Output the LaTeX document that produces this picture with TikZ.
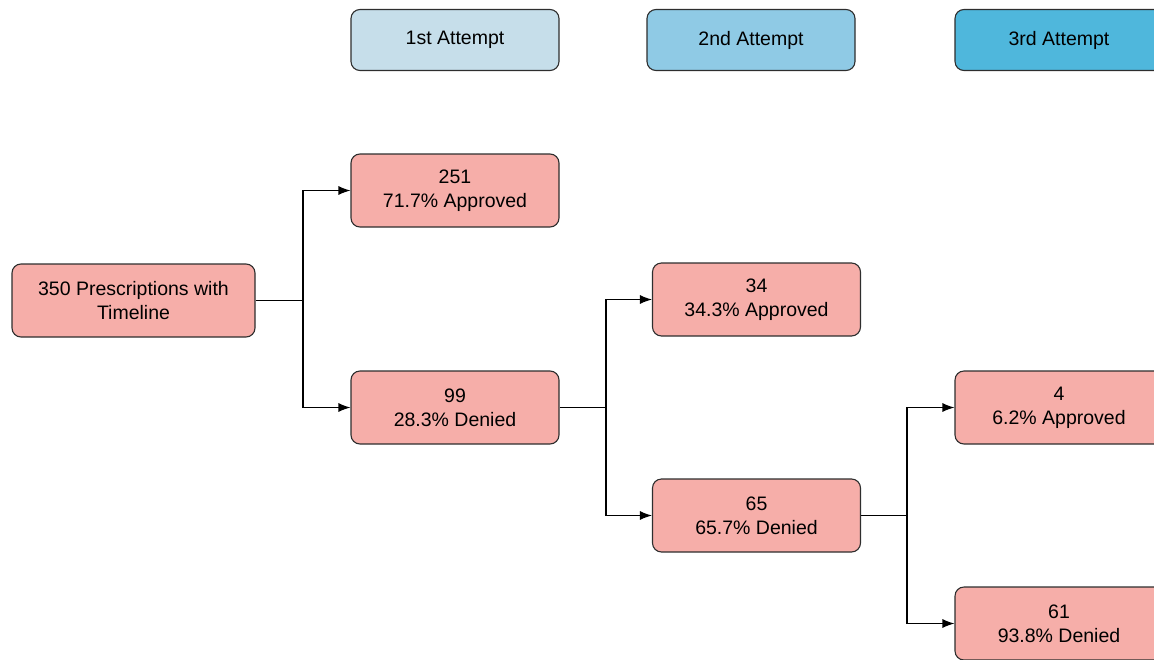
\documentclass[tikz,border=0pt]{standalone}
\usepackage{fontspec}
\setmainfont{Liberation Sans}
\usetikzlibrary{arrows.meta}
\definecolor{hdrA}{HTML}{C6DEEA}
\definecolor{hdrB}{HTML}{8FCAE5}
\definecolor{hdrC}{HTML}{4FB7DC}
\definecolor{pinkbox}{HTML}{F6AEA9}
\definecolor{edge}{HTML}{2E2E2E}
\tikzset{
  box/.style={draw=edge, line width=1.1pt, rounded corners=9pt, minimum width=208pt, minimum height=73pt, align=center, font=\fontsize{19.5}{24}\selectfont, inner sep=2pt},
  hdr/.style={box, minimum height=61pt},
  pbox/.style={box, fill=pinkbox},
  conn/.style={draw=black, line width=1.1pt, -{Latex[length=12pt,width=9pt]}},
}
\begin{document}
\begin{tikzpicture}[x=1pt,y=-1pt]
\useasboundingbox (0,0) rectangle (1154,659);
\clip (0,0) rectangle (1154,659);
\node[hdr, fill=hdrA] (h1) at (455,40) {1st Attempt};
\node[hdr, fill=hdrB] (h2) at (751,40) {2nd Attempt};
\node[hdr, fill=hdrC] (h3) at (1059,40) {3rd Attempt};
\node[pbox, minimum width=243pt] (root) at (133.5,300.5) {350 Prescriptions with\\Timeline};
\node[pbox] (a1) at (455,190.5) {251\\71.7\% Approved};
\node[pbox] (d1) at (455,407.5) {99\\28.3\% Denied};
\node[pbox] (a2) at (756.5,299.5) {34\\34.3\% Approved};
\node[pbox] (d2) at (756.5,515.5) {65\\65.7\% Denied};
\node[pbox] (a3) at (1059,407.5) {4\\6.2\% Approved};
\node[pbox] (d3) at (1059,623.5) {61\\93.8\% Denied};
\coordinate (j1) at (303,300.5);
\coordinate (j2) at (606,407.5);
\coordinate (j3) at (907,515.5);
\draw[line width=1.1pt] (root.east) -- (j1);
\draw[conn] (j1) |- (a1.west);
\draw[conn] (j1) |- (d1.west);
\draw[line width=1.1pt] (d1.east) -- (j2);
\draw[conn] (j2) |- (a2.west);
\draw[conn] (j2) |- (d2.west);
\draw[line width=1.1pt] (d2.east) -- (j3);
\draw[conn] (j3) |- (a3.west);
\draw[conn] (j3) |- (d3.west);
\end{tikzpicture}
\end{document}
